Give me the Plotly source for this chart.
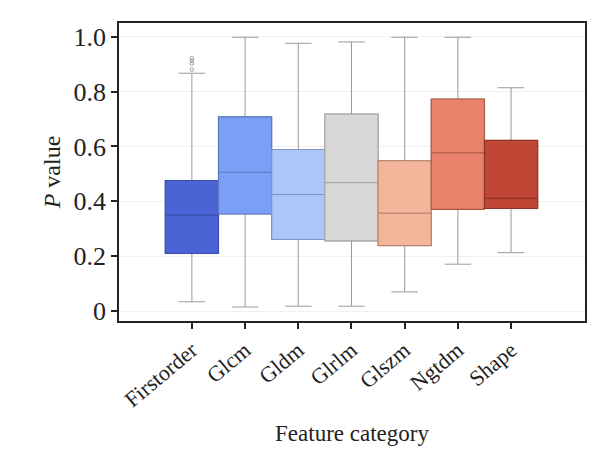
import plotly.graph_objects as go

# 各特徵類別的箱形圖統計量
categories = ['Firstorder', 'Glcm', 'Gldm', 'Glrlm', 'Glszm', 'Ngtdm', 'Shape']
lower = [0.034, 0.015, 0.018, 0.018, 0.070, 0.171, 0.213]
q1 = [0.210, 0.354, 0.261, 0.256, 0.239, 0.371, 0.374]
median = [0.350, 0.506, 0.425, 0.468, 0.357, 0.577, 0.411]
q3 = [0.476, 0.708, 0.589, 0.718, 0.548, 0.773, 0.622]
upper = [0.867, 0.998, 0.976, 0.981, 0.998, 0.998, 0.814]
outlier_cat = ['Firstorder', 'Firstorder', 'Firstorder', 'Firstorder']
outlier_val = [0.880, 0.902, 0.912, 0.921]

fills = ['#4a64d6', '#7b9ff5', '#adc6fa', '#d8d6d7', '#f4b69a', '#e8826a', '#c04636']
edges = ['#3a4fa8', '#5c7ac0', '#7f95bd', '#a9a9a9', '#b98068', '#ad5a45', '#8f3327']

y_ticks = [0, 0.2, 0.4, 0.6, 0.8, 1.0]
y_labels = ['0', '0.2', '0.4', '0.6', '0.8', '1.0']

FONT = 'Liberation Serif'

fig = go.Figure()

# 灰色鬚線 (whiskers)
for i, cat in enumerate(categories):
    fig.add_trace(go.Box(
        x=[cat], q1=[q1[i]], median=[median[i]], q3=[q3[i]],
        lowerfence=[lower[i]], upperfence=[upper[i]],
        width=1, whiskerwidth=0.5, fillcolor=fills[i],
        line=dict(color='#9a9a9a', width=1), showlegend=False,
        hoverinfo='skip',
    ))

# 彩色箱體
for i, cat in enumerate(categories):
    fig.add_trace(go.Box(
        x=[cat], q1=[q1[i]], median=[median[i]], q3=[q3[i]],
        lowerfence=[q1[i]], upperfence=[q3[i]],
        width=1, whiskerwidth=0, fillcolor=fills[i],
        line=dict(color=edges[i], width=1.2), showlegend=False,
    ))

# 離群值
fig.add_trace(go.Scatter(
    x=outlier_cat, y=outlier_val, mode='markers',
    marker=dict(symbol='circle-open', size=3.5, color='#888888', line=dict(width=0.8)),
    showlegend=False,
))

# 頁面 body 有 8px 邊距, 邊界已扣除
fig.update_layout(
    width=611, height=452,
    margin=dict(l=111, r=34, t=15, b=139),
    plot_bgcolor='white', paper_bgcolor='white',
    boxmode='overlay',
    font=dict(family=FONT, color='#222222'),
    xaxis=dict(
        type='category', categoryorder='array', categoryarray=categories,
        range=[-1.37, 7.39],
        showline=True, mirror=True, linecolor='#222222', linewidth=1.5,
        ticks='outside', ticklen=6, tickwidth=1.5, tickcolor='#222222',
        tickangle=-40, tickfont=dict(size=22, family=FONT),
        showgrid=False, zeroline=False,
        title=dict(text='Feature category', font=dict(size=23, family=FONT), standoff=14),
    ),
    yaxis=dict(
        range=[-0.036, 1.05],
        tickvals=y_ticks, ticktext=y_labels,
        showline=True, mirror=True, linecolor='#222222', linewidth=1.5,
        ticks='outside', ticklen=6, tickwidth=1.5, tickcolor='#222222',
        tickfont=dict(size=26, family=FONT),
        showgrid=True, gridcolor='#f0f0f0', gridwidth=1, zeroline=False,
        title=dict(text='<i>P</i> value', font=dict(size=24, family=FONT), standoff=6),
    ),
)

fig.write_html('out.html')
